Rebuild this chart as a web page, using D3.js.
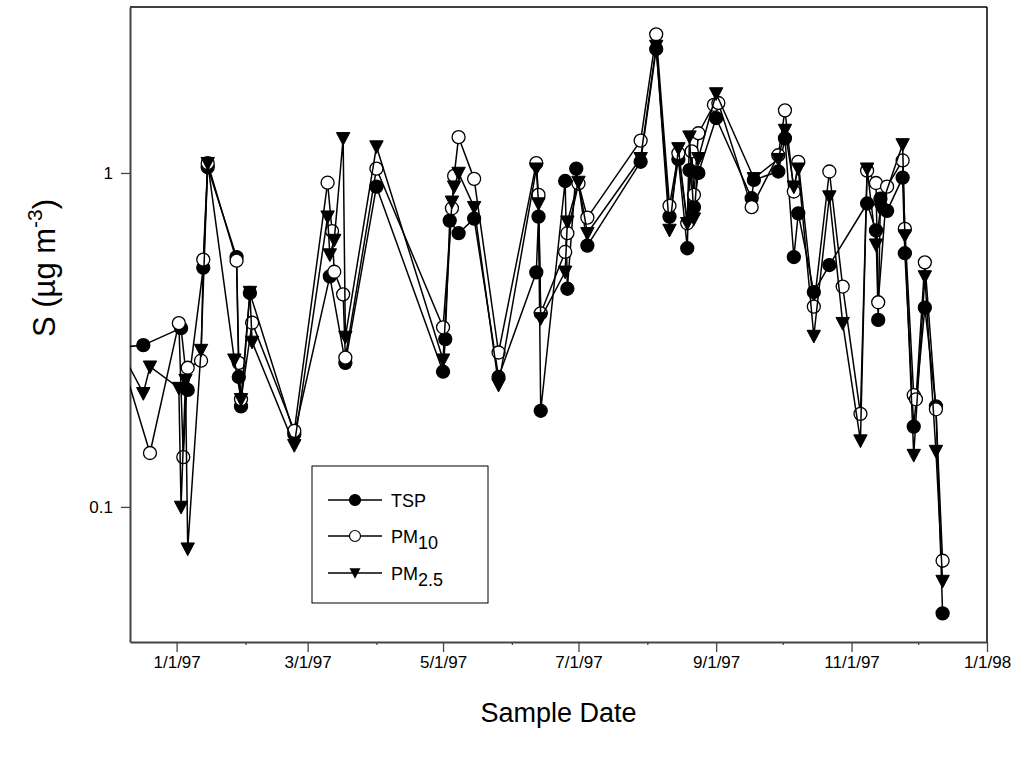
<!DOCTYPE html>
<html>
<head>
<meta charset="utf-8">
<script src="https://cdn.jsdelivr.net/npm/d3@7"></script>
<style>
  body { margin: 0; background: #fff; }
  text { font-family: "Liberation Sans", Arial, sans-serif; fill: #000; }
</style>
</head>
<body>
<svg id="chart" width="1027" height="758"></svg>
<script>
// Sulfur concentrations by sample date, three size fractions
const tspDates = ["1996-12-05","1996-12-17","1997-01-03","1997-01-06","1997-01-13","1997-01-15","1997-01-28","1997-01-29","1997-01-30","1997-02-03","1997-02-23","1997-03-11","1997-03-18","1997-04-01","1997-05-01","1997-05-02","1997-05-04","1997-05-08","1997-05-15","1997-05-26","1997-06-12","1997-06-13","1997-06-14","1997-06-25","1997-06-26","1997-06-30","1997-07-05","1997-07-29","1997-08-05","1997-08-11","1997-08-15","1997-08-19","1997-08-20","1997-08-22","1997-08-24","1997-09-01","1997-09-17","1997-09-18","1997-09-29","1997-10-02","1997-10-06","1997-10-08","1997-10-15","1997-10-22","1997-11-08","1997-11-12","1997-11-13","1997-11-14","1997-11-17","1997-11-24","1997-11-25","1997-11-29","1997-12-04","1997-12-09","1997-12-12"];
const tspValues = [0.30,0.305,0.343,0.224,0.52,1.04,0.56,0.245,0.20,0.437,0.165,0.49,0.27,0.91,0.254,0.318,0.72,0.66,0.73,0.245,0.504,0.74,0.194,0.946,0.45,1.03,0.606,1.08,2.35,0.74,1.10,0.595,1.02,0.79,1.0,1.46,0.84,0.953,1.01,1.27,0.56,0.757,0.44,0.53,0.81,0.673,0.363,0.837,0.77,0.968,0.575,0.174,0.395,0.20,0.048];

const pm10Dates = ["1996-12-05","1996-12-20","1997-01-02","1997-01-04","1997-01-06","1997-01-12","1997-01-13","1997-01-15","1997-01-28","1997-01-29","1997-01-30","1997-02-04","1997-02-23","1997-03-10","1997-03-12","1997-03-13","1997-03-17","1997-03-18","1997-04-01","1997-05-01","1997-05-05","1997-05-06","1997-05-08","1997-05-15","1997-05-26","1997-06-12","1997-06-13","1997-06-14","1997-06-25","1997-06-26","1997-07-01","1997-07-05","1997-07-29","1997-08-05","1997-08-11","1997-08-15","1997-08-19","1997-08-21","1997-08-22","1997-08-24","1997-08-31","1997-09-02","1997-09-17","1997-09-29","1997-10-02","1997-10-06","1997-10-08","1997-10-15","1997-10-22","1997-10-28","1997-11-05","1997-11-08","1997-11-12","1997-11-13","1997-11-17","1997-11-24","1997-11-25","1997-11-29","1997-11-30","1997-12-04","1997-12-09","1997-12-12"];
const pm10Values = [0.31,0.145,0.355,0.141,0.261,0.274,0.55,1.07,0.546,0.27,0.21,0.356,0.169,0.935,0.67,0.506,0.433,0.28,1.03,0.345,0.784,0.98,1.28,0.96,0.29,1.07,0.86,0.38,0.58,0.66,0.93,0.735,1.25,2.6,0.797,1.145,0.707,1.16,0.86,1.315,1.6,1.62,0.79,1.13,1.54,0.88,1.08,0.398,1.01,0.457,0.19,1.016,0.933,0.41,0.91,1.09,0.68,0.216,0.21,0.54,0.196,0.069];

const pm25Dates = ["1996-12-05","1996-12-17","1996-12-20","1997-01-02","1997-01-03","1997-01-05","1997-01-06","1997-01-12","1997-01-15","1997-01-27","1997-01-30","1997-02-03","1997-02-04","1997-02-23","1997-03-10","1997-03-11","1997-03-13","1997-03-17","1997-03-18","1997-04-01","1997-05-01","1997-05-05","1997-05-06","1997-05-08","1997-05-15","1997-05-26","1997-06-12","1997-06-13","1997-06-14","1997-06-25","1997-06-26","1997-07-01","1997-07-05","1997-07-29","1997-08-05","1997-08-11","1997-08-15","1997-08-19","1997-08-20","1997-08-22","1997-08-24","1997-09-01","1997-09-18","1997-09-29","1997-10-02","1997-10-06","1997-10-08","1997-10-15","1997-10-22","1997-10-28","1997-11-05","1997-11-08","1997-11-12","1997-11-14","1997-11-24","1997-11-25","1997-11-29","1997-12-04","1997-12-09","1997-12-12"];
const pm25Values = [0.31,0.219,0.263,0.227,0.10,0.24,0.075,0.295,1.07,0.276,0.21,0.44,0.312,0.153,0.74,0.57,0.63,1.27,0.323,1.2,0.276,0.82,0.91,1.0,0.79,0.232,1.03,0.81,0.367,0.506,0.715,0.94,0.66,1.107,2.4,0.675,1.185,0.707,1.285,0.73,1.107,1.73,0.964,1.1,1.345,0.91,1.03,0.325,0.85,0.355,0.158,1.03,0.61,0.78,1.218,0.65,0.143,0.49,0.147,0.06];

const xTickDates = ["1997-01-01","1997-03-01","1997-05-01","1997-07-01","1997-09-01","1997-11-01","1998-01-01"];
const xTickLabels = ["1/1/97","3/1/97","5/1/97","7/1/97","9/1/97","11/1/97","1/1/98"];
const xMinorDates = ["1997-02-01","1997-04-01","1997-06-01","1997-08-01","1997-10-01","1997-12-01"];
const yTickValues = [0.1, 1];
const yTickLabels = ["0.1", "1"];

const parse = d3.utcParse("%Y-%m-%d");
const svg = d3.select("#chart");
const plotLeft = 130, plotRight = 987, plotTop = 7, plotBottom = 642;

const x = d3.scaleUtc().domain([parse("1996-12-11"), parse("1998-01-01")]).range([plotLeft, plotRight]);
const y = d3.scaleLog().domain([0.0394, 3.14]).range([plotBottom, plotTop]);

svg.append("defs").append("clipPath").attr("id", "plotClip")
  .append("rect").attr("x", plotLeft).attr("y", plotTop)
  .attr("width", plotRight - plotLeft).attr("height", plotBottom - plotTop);

// frame: top and right edges
svg.append("line").attr("x1", plotLeft).attr("x2", plotRight).attr("y1", plotTop).attr("y2", plotTop)
  .attr("stroke", "#000").attr("stroke-width", 1.5);
svg.append("line").attr("x1", plotRight).attr("x2", plotRight).attr("y1", plotTop).attr("y2", plotBottom)
  .attr("stroke", "#000").attr("stroke-width", 1.5);

// x axis
const xAxis = svg.append("g").attr("transform", `translate(0,${plotBottom})`)
  .call(d3.axisBottom(x).tickValues(xTickDates.map(parse)).tickSize(10).tickSizeOuter(0).tickPadding(4)
    .tickFormat((d, i) => xTickLabels[i]));
xAxis.select(".domain").attr("stroke", "#444").attr("stroke-width", 2);
xAxis.selectAll(".tick line").attr("stroke", "#444").attr("stroke-width", 1.3);
xAxis.selectAll(".tick text").attr("font-size", 17).attr("font-family", "Liberation Sans, Arial, sans-serif");

const xMinor = svg.append("g").attr("transform", `translate(0,${plotBottom})`)
  .call(d3.axisBottom(x).tickValues(xMinorDates.map(parse)).tickSize(3).tickFormat(""));
xMinor.select(".domain").remove();
xMinor.selectAll(".tick line").attr("stroke", "#444").attr("stroke-width", 1.3);

// y axis
const yAxis = svg.append("g").attr("transform", `translate(${plotLeft},0)`)
  .call(d3.axisLeft(y).tickValues(yTickValues).tickSize(9).tickSizeOuter(0).tickPadding(8)
    .tickFormat((d, i) => yTickLabels[i]));
yAxis.select(".domain").attr("stroke", "#444").attr("stroke-width", 2);
yAxis.selectAll(".tick line").attr("stroke", "#444").attr("stroke-width", 1.3);
yAxis.selectAll(".tick text").attr("font-size", 17).attr("font-family", "Liberation Sans, Arial, sans-serif");

// axis titles
svg.append("text").attr("x", (plotLeft + plotRight) / 2).attr("y", 722).attr("text-anchor", "middle")
  .attr("font-size", 27).text("Sample Date");
const yTitle = svg.append("text").attr("transform", "translate(55,268) rotate(-90)")
  .attr("text-anchor", "middle").attr("font-size", 31);
yTitle.append("tspan").text("S (µg m");
yTitle.append("tspan").attr("font-size", 21).attr("dy", -13).text("-3");
yTitle.append("tspan").attr("dy", 13).text(")");

const triPath = (s) => `M${-s},${-s * 0.85}L${s},${-s * 0.85}L0,${s * 1.05}Z`;

const series = [
  { dates: tspDates, values: tspValues, shape: "circle", fill: "#000" },
  { dates: pm10Dates, values: pm10Values, shape: "circle", fill: "#fff" },
  { dates: pm25Dates, values: pm25Values, shape: "triangle", fill: "#000" }
];

const plot = svg.append("g").attr("clip-path", "url(#plotClip)");
const line = d3.line().x(d => x(d.date)).y(d => y(d.value));

series.forEach(s => {
  const pts = s.dates.map((d, i) => ({ date: parse(d), value: s.values[i] }));
  const g = plot.append("g");
  g.append("path").datum(pts).attr("d", line)
    .attr("fill", "none").attr("stroke", "#000").attr("stroke-width", 1.5).attr("stroke-linejoin", "round");
  if (s.shape === "circle") {
    g.selectAll("circle").data(pts).join("circle")
      .attr("cx", d => x(d.date)).attr("cy", d => y(d.value)).attr("r", 6.5)
      .attr("fill", s.fill).attr("stroke", "#000").attr("stroke-width", 1.3);
  } else {
    g.selectAll("path.mk").data(pts).join("path").attr("class", "mk")
      .attr("transform", d => `translate(${x(d.date)},${y(d.value)})`)
      .attr("d", triPath(6.7)).attr("fill", s.fill).attr("stroke", "#000").attr("stroke-width", 1);
  }
});

// legend
const lg = svg.append("g");
lg.append("rect").attr("x", 312).attr("y", 466).attr("width", 176).attr("height", 137)
  .attr("fill", "#fff").attr("stroke", "#000").attr("stroke-width", 1);
const legendRows = [
  { y: 500, shape: "circle", fill: "#000", main: "TSP", sub: "" },
  { y: 536, shape: "circle", fill: "#fff", main: "PM", sub: "10" },
  { y: 573, shape: "triangle", fill: "#000", main: "PM", sub: "2.5" }
];
legendRows.forEach(r => {
  lg.append("line").attr("x1", 328).attr("x2", 382).attr("y1", r.y).attr("y2", r.y)
    .attr("stroke", "#000").attr("stroke-width", 1.4);
  if (r.shape === "circle") {
    lg.append("circle").attr("cx", 355).attr("cy", r.y).attr("r", 5.5)
      .attr("fill", r.fill).attr("stroke", "#000").attr("stroke-width", 1.2);
  } else {
    lg.append("path").attr("transform", `translate(355,${r.y})`).attr("d", triPath(5.5)).attr("fill", "#000");
  }
  const t = lg.append("text").attr("x", 391).attr("y", r.y + 6.5).attr("font-size", 18);
  t.append("tspan").text(r.main);
  if (r.sub) t.append("tspan").attr("font-size", 18).attr("dy", 6).text(r.sub);
});
</script>
</body>
</html>
